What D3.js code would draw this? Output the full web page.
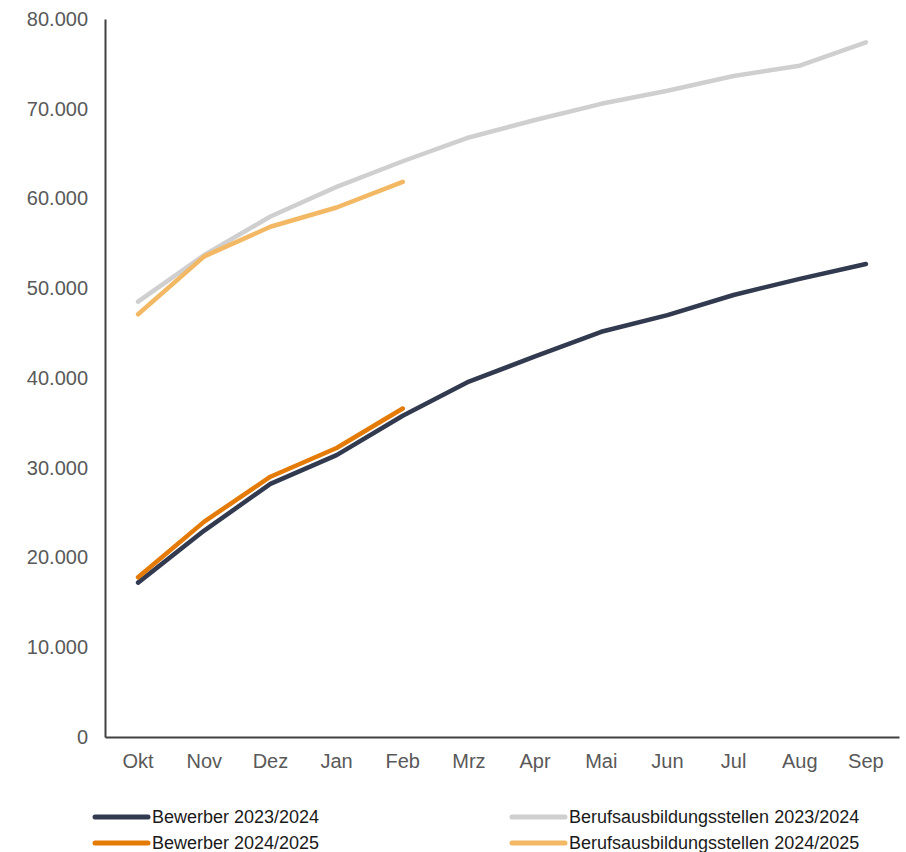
<!DOCTYPE html>
<html><head><meta charset="utf-8">
<script src="https://cdn.jsdelivr.net/npm/d3@7"></script>
<style>body{margin:0;background:#fff}svg{display:block}</style>
</head><body>
<svg id="c" width="906" height="852"></svg>
<script>
const months = ["Okt","Nov","Dez","Jan","Feb","Mrz","Apr","Mai","Jun","Jul","Aug","Sep"];
const bewerber2324 = [17200,23000,28200,31400,35800,39600,42400,45150,47000,49250,51050,52700];
const bewerber2425 = [17800,24000,29000,32200,36600];
const stellen2324 = [48500,53700,58000,61300,64150,66800,68750,70550,72000,73650,74800,77400];
const stellen2425 = [47100,53550,56850,59000,61850];
const yTicks = [0,10000,20000,30000,40000,50000,60000,70000,80000];
const seriesNames = ["Bewerber 2023/2024","Berufsausbildungsstellen 2023/2024","Bewerber 2024/2025","Berufsausbildungsstellen 2024/2025"];
const colors = ["#323a50","#cfcfcf","#e37b06","#f3b864"];

const svg = d3.select("#c");
const x = d3.scaleBand().domain(months).range([105, 899]);
const y = d3.scaleLinear().domain([0, 80000]).range([737, 19]);
const fmt = d => d3.format(",")(d).replace(/,/g, ".");

// y axis
const ya = svg.append("g").attr("transform","translate(105,0)")
  .call(d3.axisLeft(y).tickValues(yTicks).tickFormat(fmt).tickSize(0).tickPadding(17));
ya.select(".domain").attr("stroke","#404040").attr("stroke-width",2);
ya.selectAll("text").attr("font-family","Liberation Sans, Arial, sans-serif").attr("font-size",20).attr("fill","#595959");

// x axis
const xa = svg.append("g").attr("transform","translate(0,737)")
  .call(d3.axisBottom(x).tickSize(0).tickPadding(17));
xa.select(".domain").attr("stroke","#404040").attr("stroke-width",2);
xa.selectAll("text").attr("font-family","Liberation Sans, Arial, sans-serif").attr("font-size",20).attr("fill","#595959");

const line = d3.line().x((d,i) => x(months[i]) + x.bandwidth()/2).y(d => y(d));
const data = [stellen2324, bewerber2324, stellen2425, bewerber2425];
const dataColors = [colors[1], colors[0], colors[3], colors[2]];
data.forEach((s,k) => {
  svg.append("path").datum(s).attr("d", line).attr("fill","none")
    .attr("stroke", dataColors[k]).attr("stroke-width",4.5)
    .attr("stroke-linecap","round").attr("stroke-linejoin","round");
});

// legend
const leg = [
  {name: seriesNames[0], c: colors[0], lx: 95, ly: 817},
  {name: seriesNames[1], c: colors[1], lx: 512, ly: 817},
  {name: seriesNames[2], c: colors[2], lx: 95, ly: 843},
  {name: seriesNames[3], c: colors[3], lx: 512, ly: 843}
];
const lg = svg.append("g");
leg.forEach(l => {
  lg.append("line").attr("x1", l.lx).attr("x2", l.lx + 53).attr("y1", l.ly).attr("y2", l.ly)
    .attr("stroke", l.c).attr("stroke-width",5).attr("stroke-linecap","round");
  lg.append("text").attr("x", l.lx + 57).attr("y", l.ly).attr("dy","0.35em")
    .attr("font-family","Liberation Sans, Arial, sans-serif").attr("font-size",18).attr("fill","#1a1a1a")
    .text(l.name);
});
</script>
</body></html>
